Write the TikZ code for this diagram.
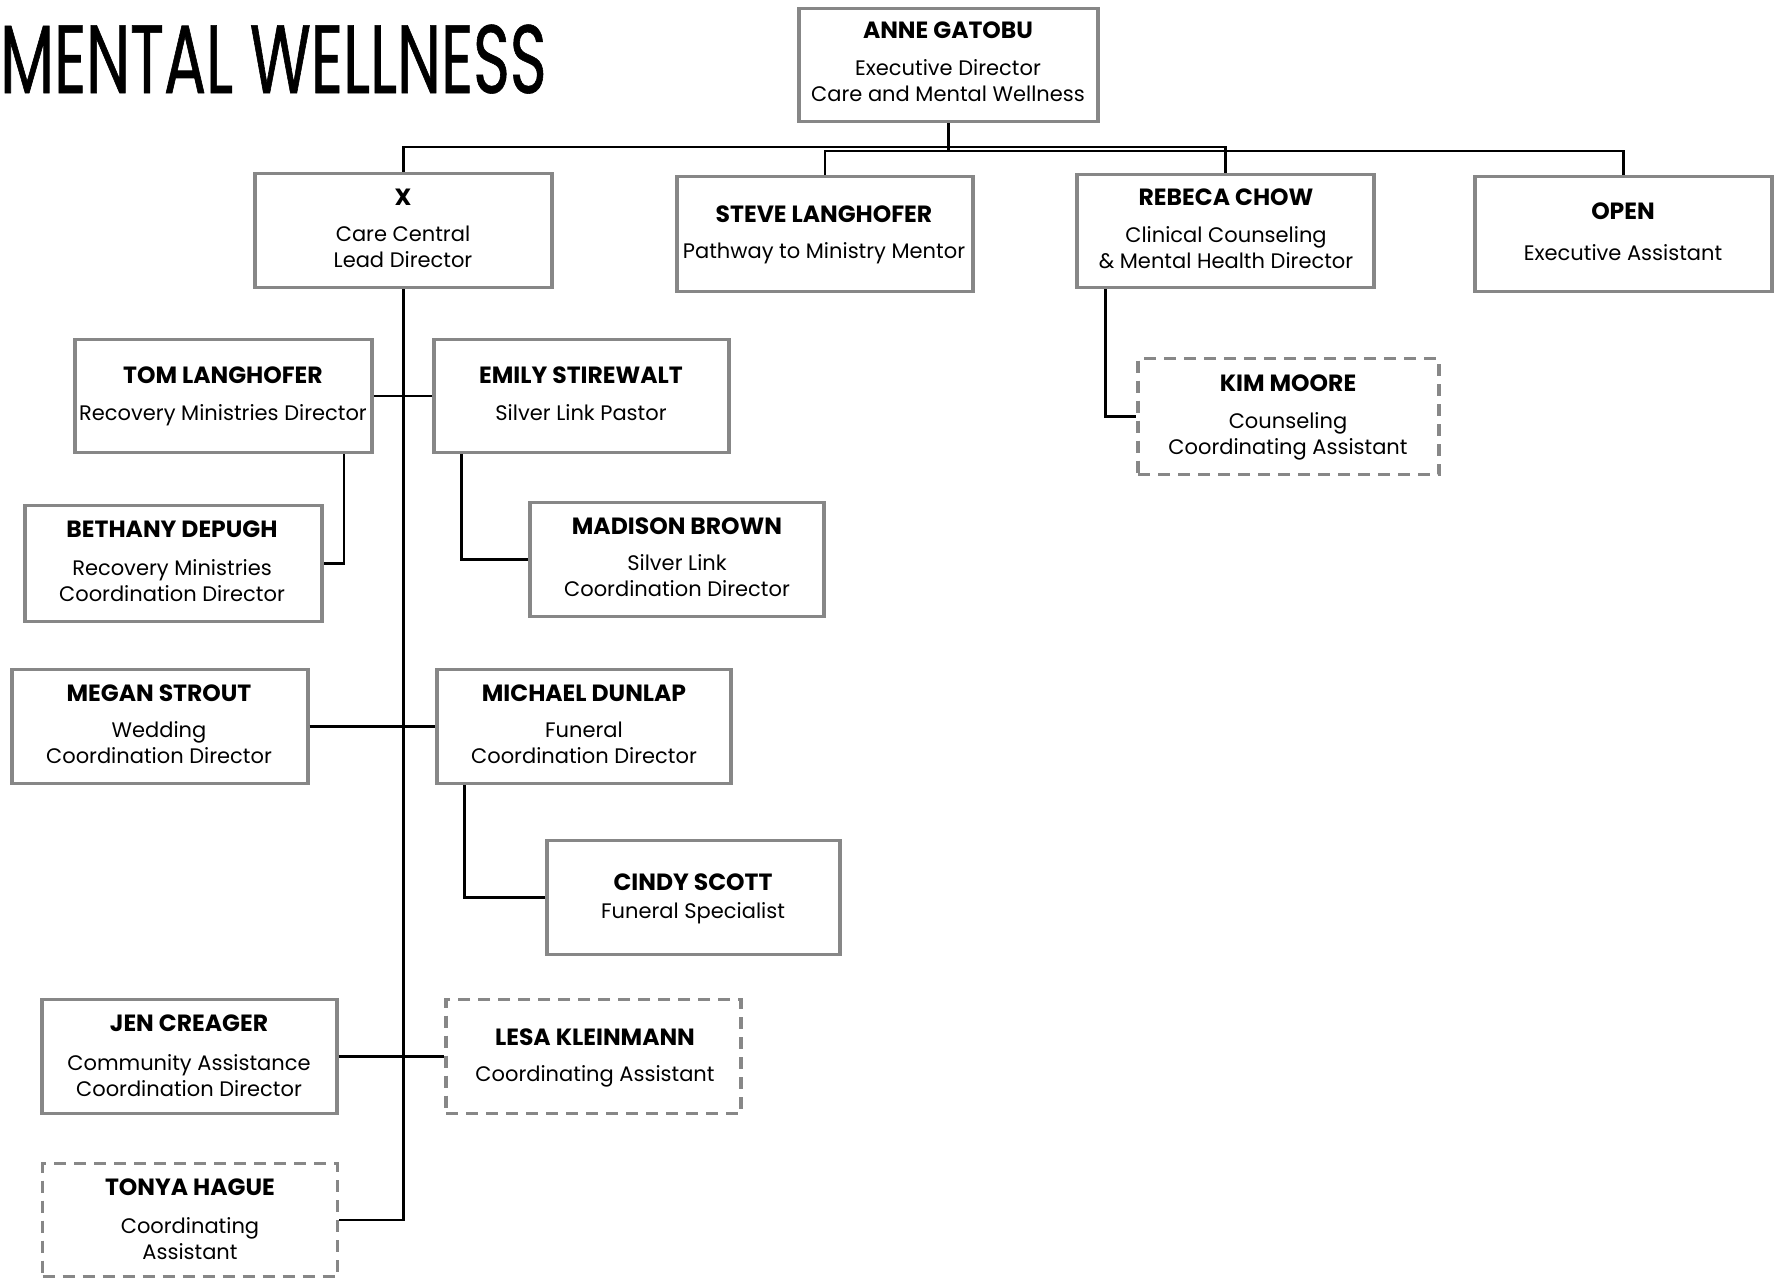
\documentclass[tikz,border=0pt]{standalone}
\usepackage{fontspec}
\setmainfont{Poppins}
\newfontfamily\titlefont[FakeStretch=0.645,FakeBold=0.6]{Poppins}
\definecolor{boxgray}{HTML}{878787}
\begin{document}
\begin{tikzpicture}[x=1pt,y=-1pt,
  box/.style={draw=boxgray, line width=3.4pt, fill=white, inner sep=0pt, rectangle},
  dbox/.style={box, dash pattern=on 12pt off 8pt},
  conn/.style={draw=black, line width=2.4pt},
  txt/.style={anchor=north, align=center, inner sep=0pt, font=\fontsize{21}{26}\selectfont}
]
\useasboundingbox (0,0) rectangle (1781,1282);
\node[anchor=base west, inner sep=0pt] (title) at (0,93) {\titlefont\fontsize{97}{97}\selectfont MENTAL WELLNESS};

% boxes
\node[box, minimum width=299pt, minimum height=113pt] (anne) at (948.5,65) {};
\node[box, minimum width=297pt, minimum height=114pt] (x) at (403.5,230.5) {};
\node[box, minimum width=296pt, minimum height=115pt] (steve) at (825,234) {};
\node[box, minimum width=297pt, minimum height=113pt] (rebeca) at (1225.5,231) {};
\node[box, minimum width=297pt, minimum height=115pt] (open) at (1623.5,234) {};
\node[dbox, minimum width=301pt, minimum height=116pt] (kim) at (1288.5,416.5) {};
\node[box, minimum width=297pt, minimum height=113pt] (tom) at (223.5,396) {};
\node[box, minimum width=295pt, minimum height=113pt] (emily) at (581.5,396) {};
\node[box, minimum width=297pt, minimum height=116pt] (bethany) at (173.5,563.5) {};
\node[box, minimum width=294pt, minimum height=114pt] (madison) at (677,559.5) {};
\node[box, minimum width=296pt, minimum height=114pt] (megan) at (160,726.5) {};
\node[box, minimum width=294pt, minimum height=114pt] (michael) at (584,726.5) {};
\node[box, minimum width=293pt, minimum height=114pt] (cindy) at (693.5,897.5) {};
\node[box, minimum width=295pt, minimum height=114pt] (jen) at (189.5,1056.5) {};
\node[dbox, minimum width=295pt, minimum height=114pt] (lesa) at (593.5,1056.5) {};
\node[dbox, minimum width=295pt, minimum height=113pt] (tonya) at (190,1220) {};

% texts
\node[txt] (anneT) at (948,22) {{\bfseries\fontsize{23.5}{26}\selectfont ANNE GATOBU}\\[11pt]Executive Director\\Care and Mental Wellness};
\node[txt] (xT) at (403,189) {{\bfseries\fontsize{23.5}{26}\selectfont X}\\[10pt]Care Central\\Lead Director};
\node[txt] (steveT) at (824,206) {{\bfseries\fontsize{23.5}{26}\selectfont STEVE LANGHOFER}\\[10pt]Pathway to Ministry Mentor};
\node[txt] (rebecaT) at (1226,189) {{\bfseries\fontsize{23.5}{26}\selectfont REBECA CHOW}\\[11pt]Clinical Counseling\\\& Mental Health Director};
\node[txt] (openT) at (1623,203) {{\bfseries\fontsize{23.5}{26}\selectfont OPEN}\\[15pt]Executive Assistant};
\node[txt] (kimT) at (1288,375) {{\bfseries\fontsize{23.5}{26}\selectfont KIM MOORE}\\[11pt]Counseling\\Coordinating Assistant};
\node[txt] (tomT) at (223,367) {{\bfseries\fontsize{23.5}{26}\selectfont TOM LANGHOFER}\\[11pt]Recovery Ministries Director};
\node[txt] (emilyT) at (581,367) {{\bfseries\fontsize{23.5}{26}\selectfont EMILY STIREWALT}\\[11pt]Silver Link Pastor};
\node[txt] (bethanyT) at (172,521) {{\bfseries\fontsize{23.5}{26}\selectfont BETHANY DEPUGH}\\[12pt]Recovery Ministries\\Coordination Director};
\node[txt] (madisonT) at (677,518) {{\bfseries\fontsize{23.5}{26}\selectfont MADISON BROWN}\\[10pt]Silver Link\\Coordination Director};
\node[txt] (meganT) at (159,685) {{\bfseries\fontsize{23.5}{26}\selectfont MEGAN STROUT}\\[10pt]Wedding\\Coordination Director};
\node[txt] (michaelT) at (584,685) {{\bfseries\fontsize{23.5}{26}\selectfont MICHAEL DUNLAP}\\[10pt]Funeral\\Coordination Director};
\node[txt] (cindyT) at (693,874) {{\bfseries\fontsize{23.5}{26}\selectfont CINDY SCOTT}\\[2pt]Funeral Specialist};
\node[txt] (jenT) at (189,1015) {{\bfseries\fontsize{23.5}{26}\selectfont JEN CREAGER}\\[13pt]Community Assistance\\Coordination Director};
\node[txt] (lesaT) at (595,1029) {{\bfseries\fontsize{23.5}{26}\selectfont LESA KLEINMANN}\\[10pt]Coordinating Assistant};
\node[txt] (tonyaT) at (190,1179) {{\bfseries\fontsize{23.5}{26}\selectfont TONYA HAGUE}\\[12pt]Coordinating\\Assistant};

% bus
\coordinate (busA) at (0,147);
\coordinate (busB) at (0,151);
\draw[conn] (anne.south) -- (anne.south |- busB);
\draw[conn] (x.north) -- (x.north |- busA) -- (rebeca.north |- busA) -- (rebeca.north);
\draw[conn] (steve.north) -- (steve.north |- busB) -- (open.north |- busB) -- (open.north);

% spine and side links
\draw[conn] (x.south) -- (x.south |- tonya.east) -- (tonya.east);
\draw[conn] (tom.east) -- (emily.west);
\draw[conn] (megan.east) -- (michael.west);
\draw[conn] (jen.east) -- (lesa.west);

% sub links
\draw[conn] ([xshift=-30pt]tom.south east) |- (bethany.east);
\draw[conn] ([xshift=29pt]emily.south west) |- (madison.west);
\draw[conn] ([xshift=29pt]michael.south west) |- (cindy.west);
\draw[conn] ([xshift=30pt]rebeca.south west) |- (kim.west);
\end{tikzpicture}
\end{document}
